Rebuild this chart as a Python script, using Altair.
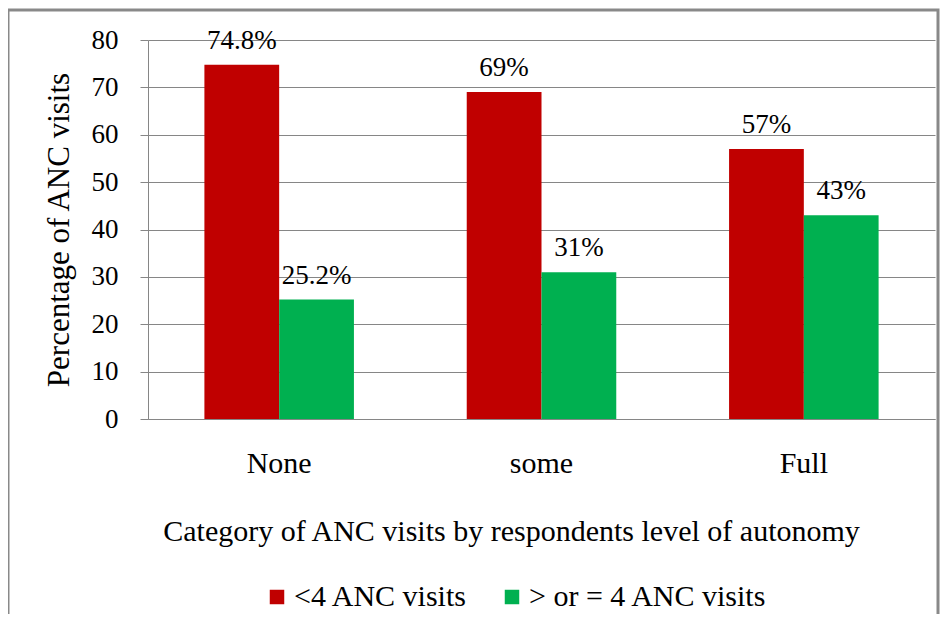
import altair as alt
import pandas as pd

categories = ["None", "some", "Full"]
series = ["<4 ANC visits", "> or = 4 ANC visits"]
below4 = [74.8, 69, 57]
atleast4 = [25.2, 31, 43]
labels_below4 = ["74.8%", "69%", "57%"]
labels_atleast4 = ["25.2%", "31%", "43%"]
colors = ["#C00000", "#00B050"]

rows = []
for c, v, l in zip(categories, below4, labels_below4):
    rows.append({"cat": c, "series": series[0], "value": v, "label": l})
for c, v, l in zip(categories, atleast4, labels_atleast4):
    rows.append({"cat": c, "series": series[1], "value": v, "label": l})
df = pd.DataFrame(rows)

FONT = "Liberation Serif"
W, H = 787, 379

x = alt.X(
    "cat:N",
    sort=categories,
    scale=alt.Scale(paddingInner=0.43, paddingOuter=0.215),
    axis=alt.Axis(
        title="Category of ANC visits by respondents level of autonomy",
        labelAngle=0,
        ticks=False,
        grid=False,
        labelFont=FONT,
        labelFontSize=30,
        labelColor="black",
        labelBaseline="alphabetic",
        labelPadding=53,
        titleFont=FONT,
        titleFontSize=30,
        titleFontWeight="normal",
        titleColor="black",
        titleBaseline="alphabetic",
        titleX=363,
        titleY=121,
        domainColor="#868686",
    ),
)
y = alt.Y(
    "value:Q",
    scale=alt.Scale(domain=[0, 80]),
    axis=alt.Axis(
        title="Percentage of ANC visits",
        values=[0, 10, 20, 30, 40, 50, 60, 70, 80],
        tickSize=8,
        tickColor="#868686",
        gridColor="#868686",
        domainColor="#868686",
        labelFont=FONT,
        labelFontSize=27,
        labelColor="black",
        labelPadding=22,
        titleFont=FONT,
        titleFontSize=31,
        titleFontWeight="normal",
        titleColor="black",
        titleX=-73,
        titleY=H / 2,
    ),
)
xo = alt.XOffset("series:N", sort=series)

bars = alt.Chart(df).mark_bar().encode(
    x=x,
    y=y,
    xOffset=xo,
    color=alt.Color(
        "series:N",
        sort=series,
        scale=alt.Scale(domain=series, range=colors),
        legend=alt.Legend(
            title=None,
            orient="none",
            direction="horizontal",
            legendX=114,
            legendY=542,
            symbolType="square",
            symbolSize=210,
            symbolStrokeWidth=0,
            labelFont=FONT,
            labelFontSize=30,
            labelColor="black",
            labelOffset=2,
            columnPadding=29,
            labelLimit=400,
        ),
    ),
)

text = alt.Chart(df).mark_text(
    font=FONT, fontSize=27, color="black", baseline="middle", dy=-24
).encode(x=x, y=y, xOffset=xo, text="label:N")

border = alt.Chart(alt.Data(values=[{}])).mark_rect(
    filled=False, stroke="#898989", strokeWidth=3
).encode(
    x=alt.value(-140), x2=alt.value(790), y=alt.value(-30), y2=alt.value(600)
)

chart = (
    alt.layer(bars, text, border)
    .properties(
        width=W,
        height=H,
        autosize=alt.AutoSizeParams(type="none"),
        padding={"left": 140, "top": 32, "right": 5, "bottom": 195},
        background="white",
    )
    .configure_view(strokeWidth=0)
)

chart.save("out.html", embed_options={"renderer": "svg", "actions": False})
